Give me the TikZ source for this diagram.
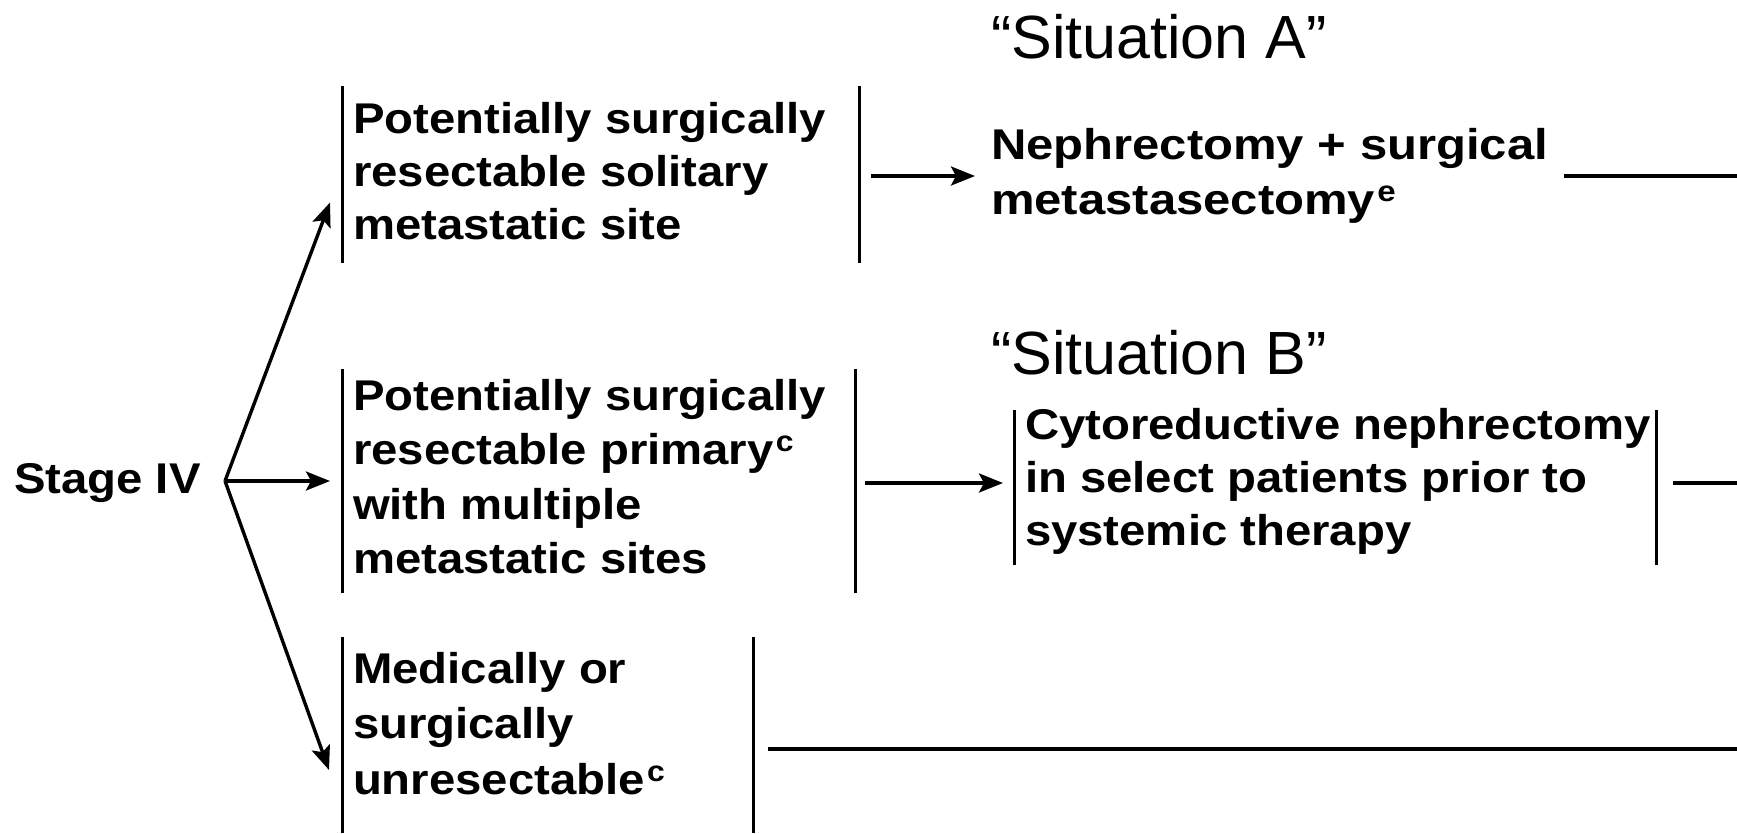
\documentclass[tikz,border=0pt]{standalone}
\usepackage{fontspec}
\setmainfont{Liberation Sans}
\usetikzlibrary{arrows.meta,calc}
\newcommand{\bodyfont}{\fontsize{43}{53}\selectfont\bfseries}
\newcommand{\sitfont}{\fontsize{61}{70}\selectfont}
\newcommand{\bxt}[3][1.1]{\scalebox{#1}[1]{\fontsize{43}{#2}\selectfont\begin{tabular}[t]{@{}l@{}}#3\end{tabular}}}
\newcommand{\supl}[1]{\kern2pt\raisebox{13pt}{\fontsize{29}{29}\selectfont #1}}
\tikzset{
  frame/.style={inner sep=0pt, outer sep=0pt},
  txt/.style={inner sep=0pt, outer sep=0pt, anchor=base west, font=\bodyfont},
  sit/.style={inner sep=0pt, outer sep=0pt, anchor=base west, font=\sitfont},
  bar/.style={line width=3pt, black},
  conn/.style={line width=3.4pt, black},
  arr/.style={conn, -{Stealth[length=24pt,width=19pt,inset=5pt]}},
}
\begin{document}
\begin{tikzpicture}[x=1pt,y=-1pt]
\useasboundingbox[fill=white] (0,0) rectangle (1737,833);
% bracket frames
\node[frame, minimum width=517pt, minimum height=177pt] (b1) at (600.5,174.5) {};
\node[frame, minimum width=513pt, minimum height=224pt] (b2) at (598.5,481) {};
\node[frame, minimum width=642pt, minimum height=155pt] (b3) at (1335,487.5) {};
\node[frame, minimum width=411pt, minimum height=196pt] (b4) at (547.5,735) {};
\foreach \b in {b1,b2,b3,b4}{
  \draw[bar] (\b.north west) -- (\b.south west);
  \draw[bar] (\b.north east) -- (\b.south east);
}
% texts
\node[txt] (s) at (14,493) {\scalebox{1.1}[1]{Stage IV}};
\node[txt] (t1) at (353,133) {\bxt{53}{Potentially surgically\\resectable solitary\\metastatic site}};
\node[txt] (t2) at (353,410) {\bxt{54.5}{Potentially surgically\\resectable primary\supl{c}\\with multiple\\metastatic sites}};
\node[txt] (t3) at (1025,439) {\bxt{53}{Cytoreductive nephrectomy\\in select patients prior to\\systemic therapy}};
\node[txt] (t4) at (353,683) {\bxt{55.5}{Medically or\\surgically\\unresectable\supl{c}}};
\node[txt] (n1) at (991,159) {\bxt[1.14]{55}{Nephrectomy + surgical\\metastasectomy\supl{e}}};
\node[sit] (sa) at (991,58) {“Situation A”};
\node[sit] (sb) at (991,374) {“Situation B”};
% connectors
\coordinate (fan) at (225,481);
\draw[arr] (fan) -- ([xshift=-12pt,yshift=-28pt]b1.west);
\draw[arr] (fan) -- ([xshift=-12pt]b2.west |- fan);
\draw[arr] (fan) -- ([xshift=-13pt,yshift=-35pt]b4.west);
\coordinate (a1) at (975,176);
\draw[arr] ([xshift=12pt]b1.east |- a1) -- (a1);
\coordinate (e1) at (1737,176);
\draw[conn] ([xshift=16pt]n1.east |- e1) -- (e1);
\coordinate (a2) at (1003,483);
\draw[arr] ([xshift=10pt]b2.east |- a2) -- (a2);
\coordinate (e3) at (1737,483);
\draw[conn] ([xshift=17pt]b3.east |- e3) -- (e3);
\coordinate (e4) at (1737,749);
\draw[conn] ([xshift=15pt]b4.east |- e4) -- (e4);
\end{tikzpicture}
\end{document}
